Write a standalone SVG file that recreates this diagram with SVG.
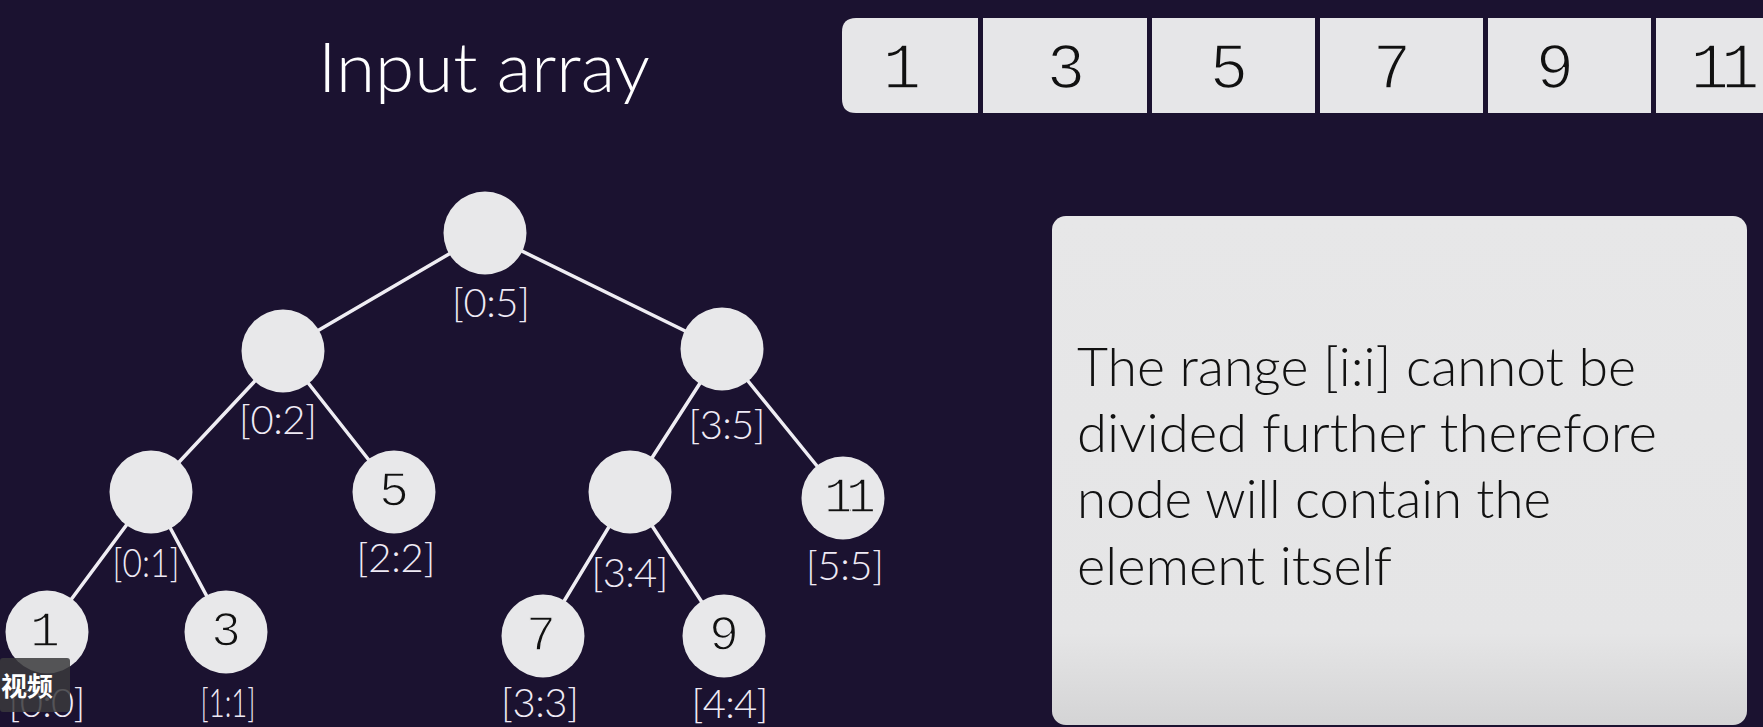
<svg xmlns="http://www.w3.org/2000/svg" width="1763" height="727" viewBox="0 0 1763 727">
<defs>
<linearGradient id="boxg" x1="0" y1="0" x2="0" y2="1">
<stop offset="0" stop-color="#e7e7e8"/>
<stop offset="0.82" stop-color="#e5e5e6"/>
<stop offset="1" stop-color="#d4d4d5"/>
</linearGradient>
<style>
.bg{fill:#1b1230}
.title{font-family:Lato,"Noto Sans",sans-serif;font-weight:300;font-size:68px;fill:#ffffff}
.cell{fill:#e6e6e8}
.cellnum{font-family:"Liberation Mono",monospace;font-size:64px;fill:#111111;text-anchor:middle;stroke:#e6e6e8;stroke-width:1.6}
.edge{stroke:#efedf3;stroke-width:3.5;fill:none;stroke-linecap:round}
.node{fill:#e8e8ea}
.nodenum{font-family:"Liberation Mono",monospace;font-size:50px;fill:#111111;text-anchor:middle;stroke:#e8e8ea;stroke-width:1.4}
.eleven{letter-spacing:-8px}
.rng{font-family:Lato,"Noto Sans",sans-serif;font-weight:300;font-size:40px;fill:#efeaf5;text-anchor:middle}
.info{font-family:Lato,"Noto Sans",sans-serif;font-weight:300;font-size:53px;fill:#111111}
.tag{font-family:"Noto Sans CJK SC",sans-serif;font-weight:bold;font-size:26px;fill:#ffffff}
</style>
</defs>
<rect class="bg" x="0" y="0" width="1763" height="727"/>

<text class="title" x="318" y="92" textLength="332" lengthAdjust="spacingAndGlyphs">Input array</text>

<g id="array">
<path class="cell" d="M856,18 H978 V113 H856 Q842,113 842,99 V32 Q842,18 856,18 Z"/>
<rect class="cell" x="983" y="18" width="164" height="95"/>
<rect class="cell" x="1152" y="18" width="163" height="95"/>
<rect class="cell" x="1320" y="18" width="163" height="95"/>
<rect class="cell" x="1488" y="18" width="163" height="95"/>
<rect class="cell" x="1656" y="18" width="107" height="95"/>
<text class="cellnum" x="902" y="88">1</text>
<text class="cellnum" x="1066" y="88">3</text>
<text class="cellnum" x="1229" y="88">5</text>
<text class="cellnum" x="1392" y="88">7</text>
<text class="cellnum" x="1555" y="88">9</text>
<text class="cellnum eleven" x="1721" y="88">11</text>
</g>

<g id="connectors">
<line class="edge" x1="485" y1="233" x2="283" y2="351"/>
<line class="edge" x1="485" y1="233" x2="722" y2="349"/>
<line class="edge" x1="283" y1="351" x2="151" y2="492"/>
<line class="edge" x1="283" y1="351" x2="394" y2="492"/>
<line class="edge" x1="722" y1="349" x2="630" y2="492"/>
<line class="edge" x1="722" y1="349" x2="843" y2="498"/>
<line class="edge" x1="151" y1="492" x2="47" y2="632"/>
<line class="edge" x1="151" y1="492" x2="226" y2="632"/>
<line class="edge" x1="630" y1="492" x2="543" y2="636"/>
<line class="edge" x1="630" y1="492" x2="724" y2="636"/>
</g>

<g id="n05"><circle class="node" cx="485" cy="233" r="41.5"/><text class="rng" x="491" y="317" textLength="78">[0:5]</text></g>
<g id="n02"><circle class="node" cx="283" cy="351" r="41.5"/><text class="rng" x="278" y="434" textLength="78">[0:2]</text></g>
<g id="n35"><circle class="node" cx="722" cy="349" r="41.5"/><text class="rng" x="727" y="439" textLength="77">[3:5]</text></g>
<g id="n01"><circle class="node" cx="151" cy="492" r="41.5"/><text class="rng" x="146" y="577" textLength="67" lengthAdjust="spacingAndGlyphs">[0:1]</text></g>
<g id="n22"><circle class="node" cx="394" cy="492" r="41.5"/><text class="nodenum" x="394" y="506">5</text><text class="rng" x="396" y="572" textLength="79">[2:2]</text></g>
<g id="n34"><circle class="node" cx="630" cy="492" r="41.5"/><text class="rng" x="630" y="587" textLength="77">[3:4]</text></g>
<g id="n55"><circle class="node" cx="843" cy="498" r="41.5"/><text class="nodenum eleven" x="846" y="512">11</text><text class="rng" x="845" y="580" textLength="78">[5:5]</text></g>
<g id="n00"><circle class="node" cx="47" cy="632" r="41.5"/><text class="nodenum" x="45" y="646">1</text><text class="rng" x="47" y="717" textLength="77">[0:0]</text></g>
<g id="n11"><circle class="node" cx="226" cy="632" r="41.5"/><text class="nodenum" x="226" y="646">3</text><text class="rng" x="228" y="717" textLength="55" lengthAdjust="spacingAndGlyphs">[1:1]</text></g>
<g id="n33"><circle class="node" cx="543" cy="636" r="41.5"/><text class="nodenum" x="541" y="650">7</text><text class="rng" x="540" y="717" textLength="78">[3:3]</text></g>
<g id="n44"><circle class="node" cx="724" cy="636" r="41.5"/><text class="nodenum" x="724" y="650">9</text><text class="rng" x="730" y="718" textLength="77">[4:4]</text></g>

<g id="infobox">
<rect x="1052" y="216" width="695" height="509" rx="14" fill="url(#boxg)"/>
<text class="info" x="1077" y="386" textLength="559" lengthAdjust="spacingAndGlyphs">The range [i:i] cannot be</text>
<text class="info" x="1077" y="452" textLength="580" lengthAdjust="spacingAndGlyphs">divided further therefore</text>
<text class="info" x="1077" y="518" textLength="474" lengthAdjust="spacingAndGlyphs">node will contain the</text>
<text class="info" x="1077" y="585" textLength="315" lengthAdjust="spacingAndGlyphs">element itself</text>
</g>

<g id="overlay">
<rect x="0" y="658" width="70" height="54" rx="3" fill="#3a3a3c" fill-opacity="0.85"/>
<text class="tag" x="1" y="696">视频</text>
</g>
</svg>
